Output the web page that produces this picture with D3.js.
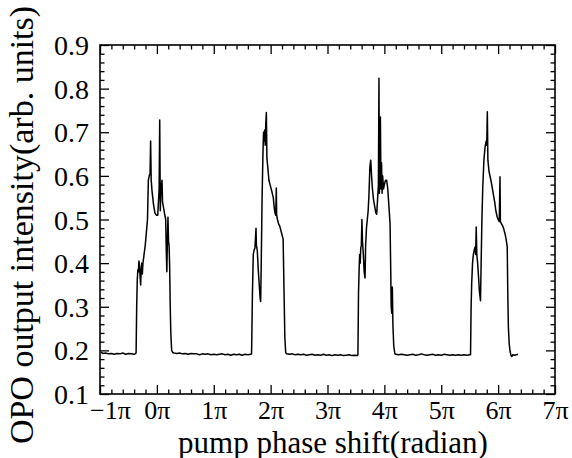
<!DOCTYPE html>
<html><head><meta charset="utf-8">
<script src="https://cdn.jsdelivr.net/npm/d3@7"></script>
<style>
body{margin:0;background:#fff}
text{font-family:"Liberation Serif","Times New Roman",serif;fill:#000}
</style>
</head><body><svg id="c" width="572" height="458"></svg>
<script>
// ---- data (x in units of pi, y = OPO output intensity) ----
const xTicks = [-1,0,1,2,3,4,5,6,7];
const xTickLabels = ["\u22121\u03c0","0\u03c0","1\u03c0","2\u03c0","3\u03c0","4\u03c0","5\u03c0","6\u03c0","7\u03c0"];
const yTicks = [0.1,0.2,0.3,0.4,0.5,0.6,0.7,0.8,0.9];
const yTickLabels = ["0.1","0.2","0.3","0.4","0.5","0.6","0.7","0.8","0.9"];

const baseline1 = [[-0.98,0.196],[-0.95,0.193],[-0.90,0.194],[-0.85,0.192],[-0.80,0.193],[-0.75,0.191],[-0.70,0.193],[-0.65,0.192],[-0.60,0.194],[-0.55,0.191],[-0.50,0.193],[-0.45,0.192],[-0.40,0.191],[-0.37,0.193]];
const peak1 = [[-0.365,0.196],[-0.355,0.30],[-0.345,0.36],[-0.335,0.385],[-0.325,0.38],[-0.315,0.405],[-0.305,0.39],[-0.295,0.37],[-0.285,0.35],[-0.275,0.39],[-0.265,0.40],[-0.255,0.375],[-0.245,0.40],[-0.225,0.42],[-0.205,0.44],[-0.185,0.47],[-0.165,0.50],[-0.15,0.59],[-0.135,0.60],[-0.12,0.605],[-0.11,0.68],[-0.10,0.59],[-0.085,0.565],[-0.06,0.535],[-0.035,0.515],[-0.01,0.51],[0.015,0.51],[0.03,0.545],[0.04,0.57],[0.05,0.728],[0.06,0.52],[0.07,0.56],[0.08,0.58],[0.09,0.59],[0.10,0.54],[0.12,0.525],[0.14,0.51],[0.155,0.50],[0.165,0.43],[0.175,0.38],[0.185,0.45],[0.195,0.505],[0.205,0.45],[0.215,0.44],[0.225,0.39],[0.235,0.30],[0.245,0.24],[0.26,0.20],[0.28,0.195]];
const baseline2 = [[0.30,0.194],[0.35,0.193],[0.40,0.194],[0.45,0.192],[0.50,0.193],[0.55,0.191],[0.60,0.193],[0.65,0.192],[0.70,0.192],[0.75,0.190],[0.80,0.192],[0.85,0.191],[0.90,0.192],[0.95,0.190],[1.00,0.191],[1.05,0.190],[1.10,0.191],[1.15,0.192],[1.20,0.190],[1.25,0.191],[1.30,0.189],[1.35,0.191],[1.40,0.190],[1.45,0.191],[1.50,0.189],[1.55,0.191],[1.60,0.190],[1.65,0.191]];
const peak2 = [[1.665,0.192],[1.68,0.33],[1.695,0.42],[1.71,0.43],[1.725,0.435],[1.735,0.46],[1.743,0.48],[1.75,0.44],[1.765,0.43],[1.785,0.38],[1.80,0.35],[1.815,0.32],[1.825,0.312],[1.835,0.40],[1.85,0.55],[1.865,0.65],[1.875,0.70],[1.885,0.68],[1.895,0.705],[1.905,0.67],[1.915,0.72],[1.925,0.745],[1.935,0.64],[1.95,0.62],[1.97,0.59],[1.99,0.58],[2.02,0.565],[2.047,0.55],[2.065,0.525],[2.077,0.515],[2.09,0.51],[2.10,0.572],[2.106,0.51],[2.12,0.50],[2.14,0.49],[2.16,0.485],[2.18,0.475],[2.20,0.465],[2.22,0.455],[2.235,0.34],[2.25,0.23],[2.265,0.195]];
const baseline3 = [[2.28,0.192],[2.33,0.191],[2.38,0.192],[2.43,0.190],[2.48,0.191],[2.53,0.190],[2.58,0.191],[2.63,0.189],[2.68,0.190],[2.73,0.191],[2.78,0.189],[2.83,0.190],[2.88,0.189],[2.93,0.191],[2.98,0.189],[3.03,0.190],[3.08,0.188],[3.13,0.190],[3.18,0.189],[3.23,0.190],[3.28,0.188],[3.33,0.189],[3.38,0.190],[3.43,0.188],[3.48,0.189],[3.52,0.188]];
const peak3 = [[3.535,0.19],[3.545,0.33],[3.555,0.38],[3.565,0.42],[3.575,0.40],[3.585,0.435],[3.595,0.44],[3.605,0.50],[3.615,0.45],[3.63,0.42],[3.645,0.38],[3.66,0.366],[3.67,0.44],[3.685,0.48],[3.70,0.50],[3.715,0.52],[3.73,0.56],[3.745,0.62],[3.76,0.636],[3.775,0.60],[3.79,0.57],[3.81,0.545],[3.83,0.53],[3.85,0.515],[3.865,0.512],[3.88,0.545],[3.895,0.58],[3.905,0.824],[3.912,0.56],[3.92,0.62],[3.93,0.735],[3.94,0.57],[3.95,0.63],[3.96,0.56],[3.97,0.60],[3.985,0.57],[4.00,0.58],[4.02,0.59],[4.04,0.59],[4.06,0.57],[4.08,0.53],[4.10,0.49],[4.11,0.40],[4.12,0.30],[4.13,0.285],[4.14,0.345],[4.15,0.26],[4.165,0.21],[4.185,0.192]];
const baseline4 = [[4.20,0.191],[4.25,0.190],[4.30,0.191],[4.35,0.190],[4.40,0.189],[4.45,0.190],[4.50,0.191],[4.55,0.189],[4.60,0.190],[4.65,0.192],[4.70,0.190],[4.75,0.189],[4.80,0.190],[4.85,0.191],[4.90,0.189],[4.95,0.190],[5.00,0.189],[5.05,0.191],[5.10,0.190],[5.15,0.189],[5.20,0.190],[5.25,0.189],[5.30,0.190],[5.35,0.189],[5.40,0.190],[5.45,0.189],[5.50,0.190]];
const peak4 = [[5.515,0.19],[5.525,0.30],[5.535,0.352],[5.55,0.40],[5.565,0.42],[5.58,0.43],[5.595,0.437],[5.605,0.42],[5.615,0.483],[5.625,0.42],[5.64,0.40],[5.655,0.37],[5.67,0.337],[5.69,0.314],[5.70,0.39],[5.715,0.50],[5.73,0.574],[5.75,0.636],[5.77,0.666],[5.79,0.68],[5.80,0.67],[5.81,0.747],[5.82,0.636],[5.84,0.61],[5.86,0.598],[5.88,0.585],[5.90,0.57],[5.92,0.555],[5.94,0.54],[5.96,0.52],[5.985,0.505],[6.00,0.50],[6.02,0.495],[6.033,0.598],[6.04,0.495],[6.06,0.49],[6.08,0.485],[6.10,0.478],[6.12,0.468],[6.14,0.455],[6.16,0.438],[6.17,0.33],[6.18,0.254],[6.195,0.215],[6.21,0.198],[6.225,0.189],[6.24,0.186],[6.26,0.19],[6.29,0.189],[6.32,0.19],[6.35,0.191]];

const series = [baseline1, peak1, baseline2, peak2, baseline3, peak3, baseline4, peak4].flat();

// ---- layout ----
const L = 100, R = 555, T = 45, B = 394;
const svg = d3.select("#c");
const x = d3.scaleLinear().domain([-1, 7]).range([L, R]);
const y = d3.scaleLinear().domain([0.1, 0.9]).range([B, T]);

const xMinor = d3.range(-1, 7.0001, 0.2).filter(v => Math.abs(v - Math.round(v)) > 1e-6);
const yMinor = d3.range(0.1, 0.9001, 0.02).filter(v => Math.abs(v*10 - Math.round(v*10)) > 1e-6);

const MAJ = 9, MIN = 4.5;
function strip(g){ g.select(".domain").remove(); g.selectAll("line").attr("stroke","#000").attr("stroke-width",1.3); }

// bottom
svg.append("g").attr("transform",`translate(0,${B})`)
  .call(d3.axisBottom(x).tickValues(xTicks).tickSize(-MAJ).tickFormat((d,i)=>xTickLabels[i]))
  .call(strip)
  .call(g=>g.selectAll("text").attr("y",24.5).attr("dy",0).attr("font-size",26).attr("font-family","Liberation Serif")
    .attr("dx",d=>d===-1?10:0));
svg.append("g").attr("transform",`translate(0,${B})`)
  .call(d3.axisBottom(x).tickValues(xMinor).tickSize(-MIN).tickFormat("")).call(strip);
// top
svg.append("g").attr("transform",`translate(0,${T})`)
  .call(d3.axisTop(x).tickValues(xTicks).tickSize(-MAJ).tickFormat("")).call(strip);
svg.append("g").attr("transform",`translate(0,${T})`)
  .call(d3.axisTop(x).tickValues(xMinor).tickSize(-MIN).tickFormat("")).call(strip);
// left
svg.append("g").attr("transform",`translate(${L},0)`)
  .call(d3.axisLeft(y).tickValues(yTicks).tickSize(-MAJ).tickFormat((d,i)=>yTickLabels[i]))
  .call(strip)
  .call(g=>g.selectAll("text").attr("x",-11).attr("dy","0.34em").attr("font-size",28).attr("font-family","Liberation Serif"));
svg.append("g").attr("transform",`translate(${L},0)`)
  .call(d3.axisLeft(y).tickValues(yMinor).tickSize(-MIN).tickFormat("")).call(strip);
// right
svg.append("g").attr("transform",`translate(${R},0)`)
  .call(d3.axisRight(y).tickValues(yTicks).tickSize(-MAJ).tickFormat("")).call(strip);
svg.append("g").attr("transform",`translate(${R},0)`)
  .call(d3.axisRight(y).tickValues(yMinor).tickSize(-MIN).tickFormat("")).call(strip);

// frame
svg.append("rect").attr("x",L).attr("y",T).attr("width",R-L).attr("height",B-T)
  .attr("fill","none").attr("stroke","#000").attr("stroke-width",1.6);

// curve
svg.append("path").datum(series)
  .attr("fill","none").attr("stroke","#000").attr("stroke-width",1.5)
  .attr("stroke-linejoin","round")
  .attr("d", d3.line().x(d=>x(d[0])).y(d=>y(d[1])));

// axis titles
svg.append("text").attr("x",333).attr("y",452.5).attr("text-anchor","middle")
  .attr("font-size",31).text("pump phase shift(radian)");
svg.append("text").attr("transform","translate(33,225) rotate(-90)").attr("text-anchor","middle")
  .attr("font-size",34).text("OPO output intensity(arb. units)");
</script>
</body></html>
